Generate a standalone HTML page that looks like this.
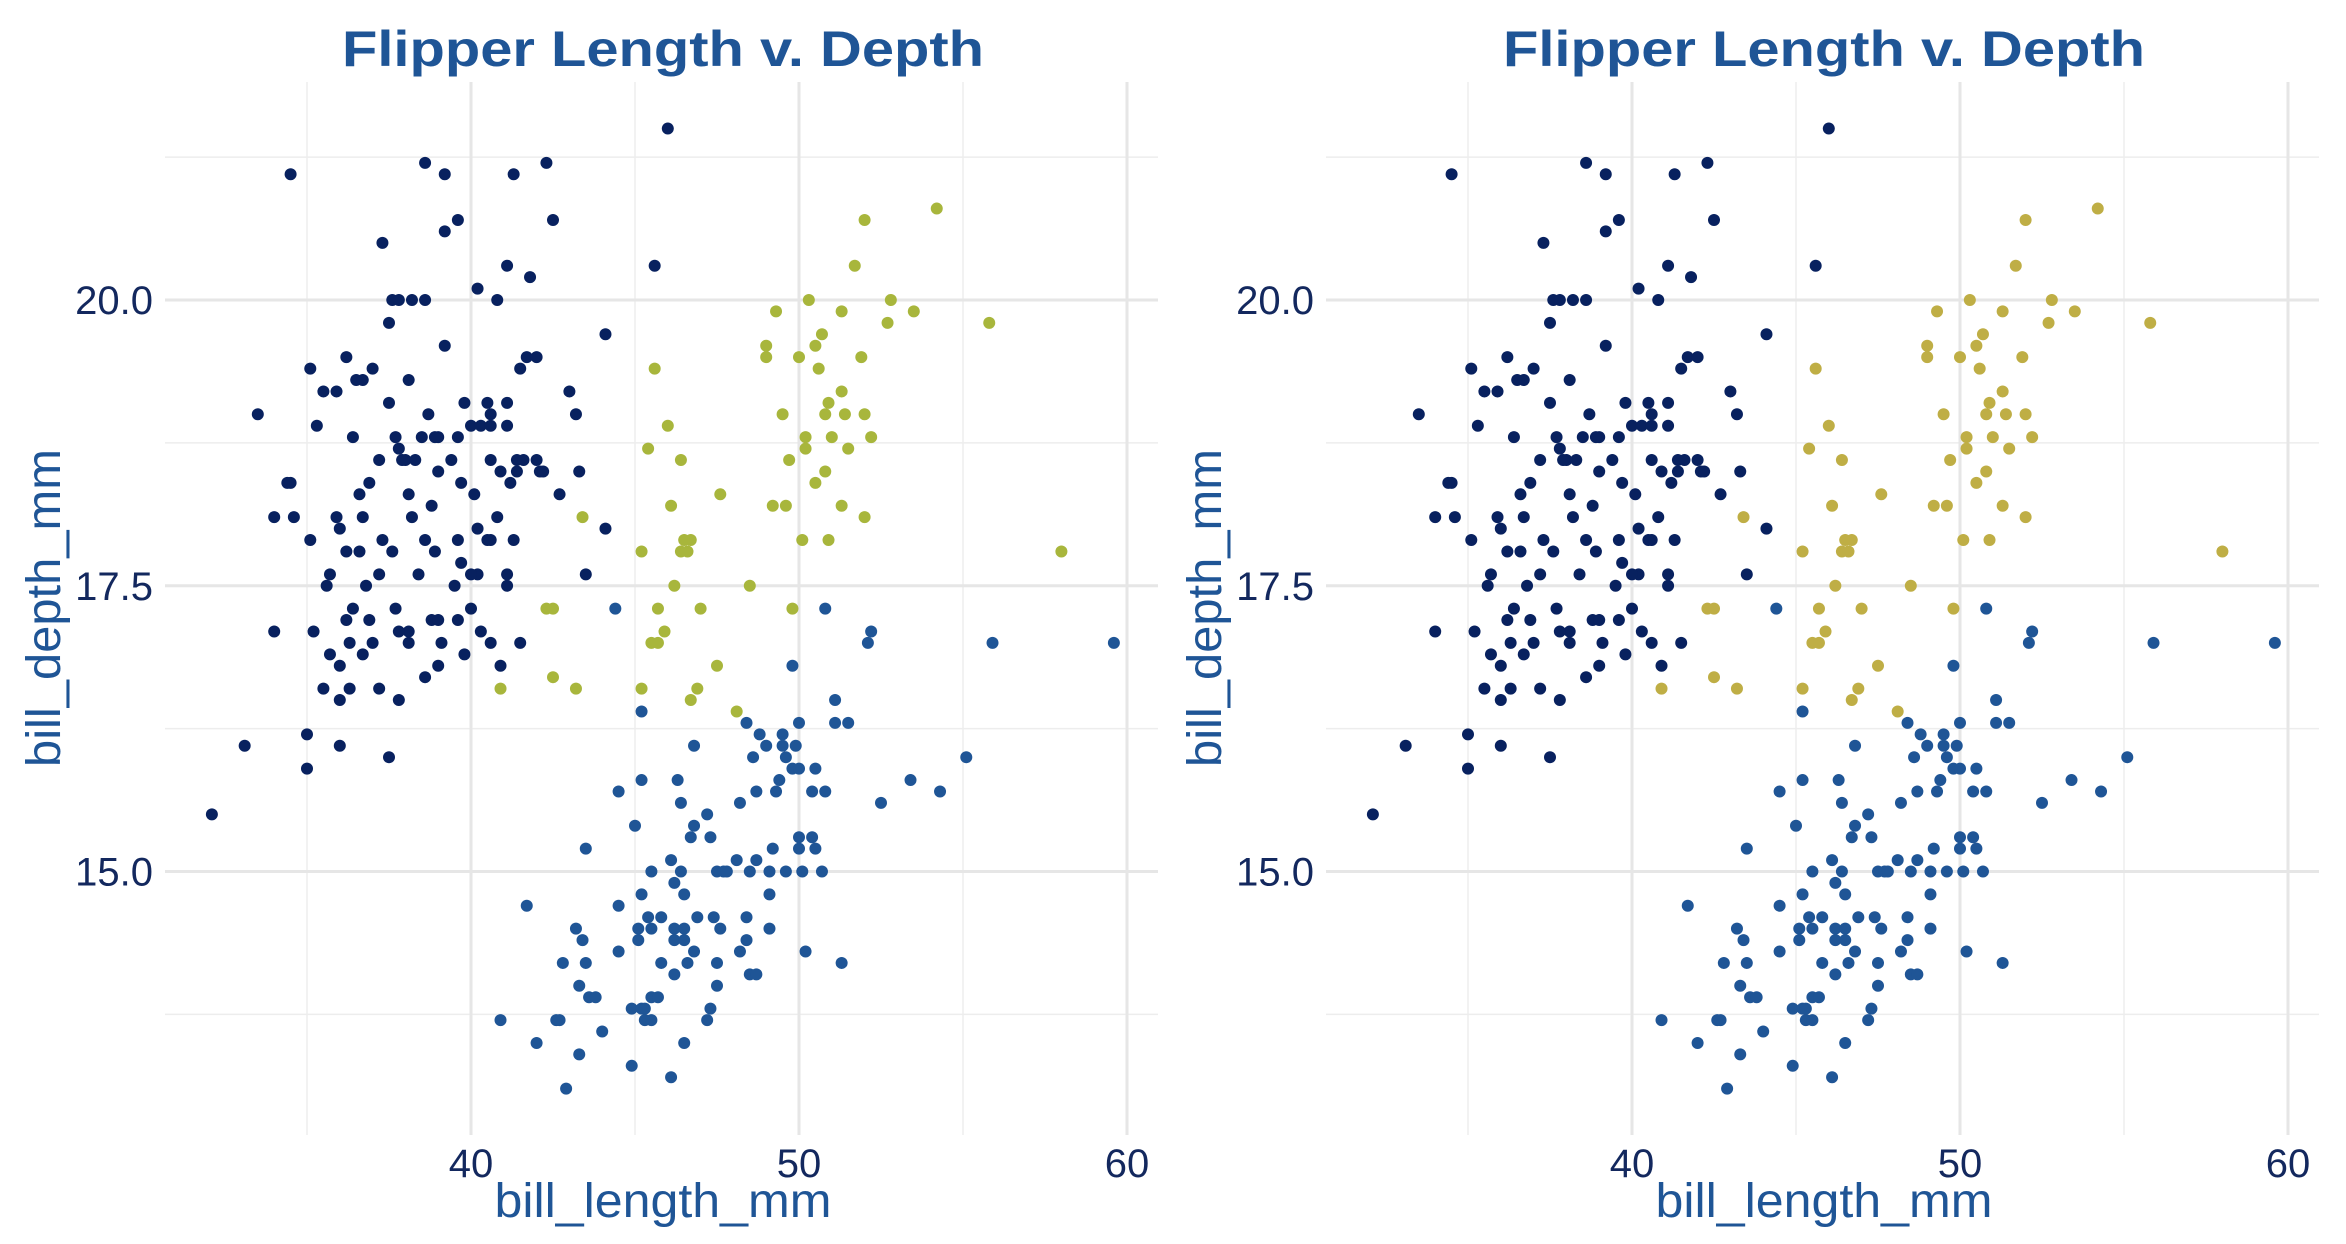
<!DOCTYPE html>
<html><head><meta charset="utf-8"><style>
html,body{margin:0;padding:0;background:#fff;}
svg{display:block;font-family:"Liberation Sans",sans-serif;}
</style></head><body>
<svg id="chart" width="2346" height="1244" viewBox="0 0 2346 1244" xmlns="http://www.w3.org/2000/svg"></svg>
<script>
const xTicks = [40, 50, 60];
const xMinor = [35, 45, 55];
const yTicks = [15.0, 17.5, 20.0];
const yMinor = [13.75, 16.25, 18.75, 21.25];
const yTickLabels = ["15.0", "17.5", "20.0"];
const titleText = "Flipper Length v. Depth";

const adelie = [[34.5,21.1],[38.6,21.2],[39.2,21.1],[42.3,21.2],[41.3,21.1],[46.0,21.5],[42.5,20.7],[39.2,20.6],[39.6,20.7],[37.3,20.5],[41.1,20.3],[41.8,20.2],[40.2,20.1],[45.6,20.3],[37.6,20.0],[37.8,20.0],[38.6,20.0],[40.8,20.0],[37.5,19.8],[44.1,19.7],[39.2,19.6],[41.7,19.5],[42.0,19.5],[36.2,19.5],[35.1,19.4],[41.5,19.4],[37.0,19.4],[36.5,19.3],[38.1,19.3],[35.5,19.2],[43.0,19.2],[33.5,19.0],[37.5,19.1],[39.8,19.1],[40.5,19.1],[43.2,19.0],[35.3,18.9],[40.0,18.9],[40.3,18.9],[40.6,18.9],[41.1,18.9],[36.4,18.8],[37.7,18.8],[38.5,18.8],[39.0,18.8],[37.8,18.7],[37.2,18.6],[38.0,18.6],[38.3,18.6],[39.4,18.6],[40.6,18.6],[41.4,18.6],[41.6,18.6],[39.0,18.5],[40.9,18.5],[42.1,18.5],[43.3,18.5],[34.5,18.4],[36.9,18.4],[38.1,18.3],[40.1,18.3],[36.6,18.3],[41.2,18.4],[35.9,18.1],[36.7,18.1],[38.8,18.2],[40.8,18.1],[40.2,18.0],[35.1,17.9],[37.3,17.9],[38.6,17.9],[41.3,17.9],[44.1,18.0],[40.6,17.9],[36.0,18.0],[34.6,18.1],[34.0,18.1],[37.6,17.8],[38.9,17.8],[39.6,17.9],[36.2,17.8],[36.6,17.8],[35.7,17.6],[37.2,17.6],[38.4,17.6],[40.2,17.6],[43.5,17.6],[35.6,17.5],[36.8,17.5],[39.5,17.5],[40.0,17.6],[36.9,17.2],[38.8,17.2],[39.0,17.2],[36.4,17.3],[37.7,17.3],[40.0,17.3],[34.0,17.1],[35.2,17.1],[36.3,17.0],[37.0,17.0],[38.1,17.0],[39.1,17.0],[40.3,17.1],[40.6,17.0],[41.5,17.0],[38.1,17.1],[36.7,16.9],[36.0,16.8],[38.6,16.7],[39.0,16.8],[36.3,16.6],[37.2,16.6],[35.5,16.6],[40.9,16.8],[37.8,16.5],[36.0,16.5],[35.0,16.2],[36.0,16.1],[37.5,16.0],[35.0,15.9],[33.1,16.1],[32.1,15.5],[39.8,16.9],[41.1,17.5],[42.7,18.3],[39.7,18.4],[37.9,18.6],[38.7,19.0],[42.0,18.6],[36.7,19.3],[39.6,18.8],[35.9,19.2],[41.1,19.1],[38.2,18.1],[37.8,17.1],[39.7,17.7],[40.5,17.9],[34.4,18.4],[38.2,20.0],[36.2,17.2],[41.4,18.5],[35.7,16.9],[41.1,17.6],[39.6,17.2],[40.6,19.0],[38.9,18.8],[42.2,18.5]];

const chinstrap = [[54.2,20.8],[52.0,20.7],[51.7,20.3],[50.3,20.0],[52.8,20.0],[49.3,19.9],[51.3,19.9],[53.5,19.9],[52.7,19.8],[55.8,19.8],[50.7,19.7],[49.0,19.6],[50.5,19.6],[49.0,19.5],[50.0,19.5],[51.9,19.5],[45.6,19.4],[50.6,19.4],[51.3,19.2],[50.9,19.1],[49.5,19.0],[50.8,19.0],[51.4,19.0],[52.0,19.0],[46.0,18.9],[50.2,18.8],[51.0,18.8],[52.2,18.8],[45.4,18.7],[50.2,18.7],[51.5,18.7],[46.4,18.6],[49.7,18.6],[50.8,18.5],[50.5,18.4],[47.6,18.3],[46.1,18.2],[49.2,18.2],[49.6,18.2],[51.3,18.2],[52.0,18.1],[46.5,17.9],[46.7,17.9],[50.1,17.9],[50.9,17.9],[45.2,17.8],[46.4,17.8],[46.6,17.8],[58.0,17.8],[46.2,17.5],[48.5,17.5],[45.7,17.3],[47.0,17.3],[49.8,17.3],[45.9,17.1],[45.5,17.0],[45.7,17.0],[47.5,16.8],[45.2,16.6],[46.9,16.6],[43.4,18.1],[42.3,17.3],[42.5,17.3],[42.5,16.7],[43.2,16.6],[40.9,16.6],[46.7,16.5],[48.1,16.4]];

const gentoo = [[44.4,17.3],[50.8,17.3],[52.2,17.1],[52.1,17.0],[55.9,17.0],[59.6,17.0],[49.8,16.8],[51.1,16.5],[45.2,16.4],[48.4,16.3],[50.0,16.3],[51.1,16.3],[51.5,16.3],[48.8,16.2],[49.5,16.2],[46.8,16.1],[49.0,16.1],[49.5,16.1],[49.9,16.1],[48.6,16.0],[49.6,16.0],[55.1,16.0],[49.8,15.9],[50.0,15.9],[50.5,15.9],[45.2,15.8],[46.3,15.8],[49.4,15.8],[53.4,15.8],[44.5,15.7],[48.7,15.7],[49.3,15.7],[50.4,15.7],[50.8,15.7],[54.3,15.7],[46.4,15.6],[48.2,15.6],[52.5,15.6],[47.2,15.5],[46.8,15.4],[45.0,15.4],[46.7,15.3],[47.3,15.3],[50.0,15.3],[50.4,15.3],[43.5,15.2],[49.2,15.2],[50.0,15.2],[50.5,15.2],[46.1,15.1],[48.1,15.1],[48.7,15.1],[45.5,15.0],[46.4,15.0],[47.5,15.0],[47.7,15.0],[47.8,15.0],[48.5,15.0],[49.1,15.0],[49.6,15.0],[50.1,15.0],[50.7,15.0],[46.2,14.9],[45.2,14.8],[46.5,14.8],[49.1,14.8],[41.7,14.7],[44.5,14.7],[45.4,14.6],[45.8,14.6],[46.9,14.6],[47.4,14.6],[48.4,14.6],[43.2,14.5],[45.1,14.5],[45.5,14.5],[46.2,14.5],[46.5,14.5],[47.6,14.5],[49.1,14.5],[43.4,14.4],[45.1,14.4],[46.2,14.4],[46.5,14.4],[48.4,14.4],[44.5,14.3],[46.8,14.3],[48.2,14.3],[50.2,14.3],[42.8,14.2],[43.5,14.2],[45.8,14.2],[46.6,14.2],[47.5,14.2],[51.3,14.2],[46.2,14.1],[48.5,14.1],[48.7,14.1],[43.3,14.0],[47.5,14.0],[43.6,13.9],[43.8,13.9],[45.5,13.9],[45.7,13.9],[44.9,13.8],[45.2,13.8],[45.3,13.8],[47.3,13.8],[40.9,13.7],[42.6,13.7],[42.7,13.7],[45.3,13.7],[45.5,13.7],[47.2,13.7],[44.0,13.6],[42.0,13.5],[46.5,13.5],[43.3,13.4],[44.9,13.3],[46.1,13.2],[42.9,13.1]];

const NS = "http://www.w3.org/2000/svg";
const svg = document.getElementById("chart");
function mk(tag, attrs, parent){
  const e = document.createElementNS(NS, tag);
  for (const k in attrs) e.setAttribute(k, attrs[k]);
  parent.appendChild(e);
  return e;
}
const plotLeft = 165, plotRight = 1158, plotTop = 82, plotBottom = 1135;
function xs(v){ return 471 + (v - 40) * 32.8; }
function ys(v){ return 300 - (v - 20) * 114.3; }

function drawPanel(off, chinColor, idx){
  const g = mk("g", {transform: "translate(" + off + ",0)"}, svg);
  
  
  const grid = mk("g", {}, g);
  
  
  yMinor.forEach(v => {
    const l = mk("line", {x1: plotLeft, x2: plotRight, y1: ys(v), y2: ys(v), stroke: "#ededed", "stroke-width": 1.5}, grid);
    
    
  });
  xMinor.forEach(v => {
    const l = mk("line", {x1: xs(v), x2: xs(v), y1: plotTop, y2: plotBottom, stroke: "#ededed", "stroke-width": 1.5}, grid);
    
    
  });
  yTicks.forEach((v, i) => {
    const l = mk("line", {x1: plotLeft, x2: plotRight, y1: ys(v), y2: ys(v), stroke: "#e6e6e6", "stroke-width": 3}, grid);
    
    
    const t = mk("text", {x: 153, y: ys(v) + 14, "text-anchor": "end", "font-size": 40, fill: "#13285e"}, g);
    t.textContent = yTickLabels[i];
    
    
  });
  xTicks.forEach(v => {
    const l = mk("line", {x1: xs(v), x2: xs(v), y1: plotTop, y2: plotBottom, stroke: "#e6e6e6", "stroke-width": 3}, grid);
    
    
    const t = mk("text", {x: xs(v), y: 1177, "text-anchor": "middle", "font-size": 40, fill: "#13285e"}, g);
    t.textContent = String(v);
    
    
  });
  const series = [[adelie, "#08215f", "adelie"], [chinstrap, chinColor, "chinstrap"], [gentoo, "#1f5596", "gentoo"]];
  series.forEach(s => {
    const sg = mk("g", {fill: s[1]}, g);
    
    
    s[0].forEach(p => {
      const c = mk("circle", {cx: xs(p[0]), cy: ys(p[1]), r: 6}, sg);
      
      
    });
  });
  const title = mk("text", {x: 663, y: 66, "text-anchor": "middle", "font-size": 50, "font-weight": "bold", fill: "#1f5596", textLength: 642, lengthAdjust: "spacingAndGlyphs"}, g);
  title.textContent = titleText;
  
  
  const xt = mk("text", {x: 663, y: 1217, "text-anchor": "middle", "font-size": 48, fill: "#1f5596", textLength: 337, lengthAdjust: "spacingAndGlyphs"}, g);
  xt.textContent = "bill_length_mm";
  
  
  const yt = mk("text", {x: 0, y: 0, "text-anchor": "middle", "font-size": 48, fill: "#1f5596", textLength: 318, lengthAdjust: "spacingAndGlyphs", transform: "translate(60,608) rotate(-90)"}, g);
  yt.textContent = "bill_depth_mm";
  
  
}
drawPanel(0, "#a8b63c", "left");
drawPanel(1161, "#bfae45", "right");
</script>
</body></html>
